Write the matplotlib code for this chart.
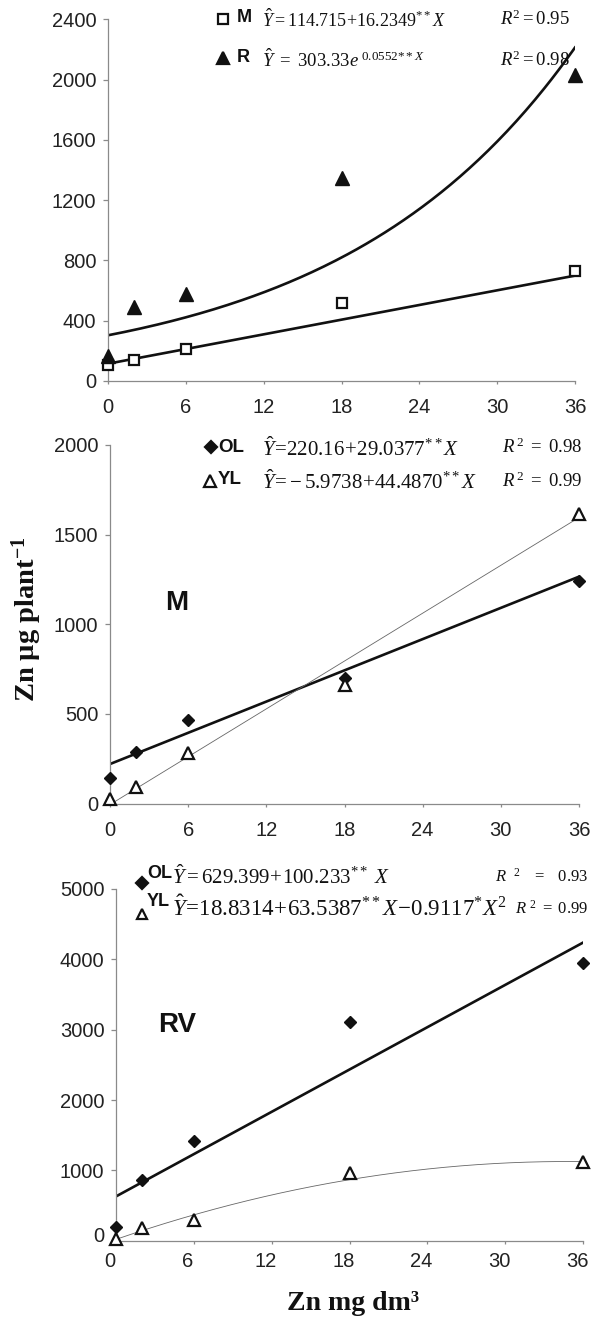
import numpy as np
import matplotlib
matplotlib.use("Agg")
import matplotlib.pyplot as plt
from matplotlib.lines import Line2D
from matplotlib.transforms import ScaledTranslation

plt.rcParams["font.family"] = ["Liberation Sans", "DejaVu Sans"]
plt.rcParams["mathtext.fontset"] = "custom"
plt.rcParams["mathtext.rm"] = "Liberation Serif"
plt.rcParams["mathtext.it"] = "Liberation Serif:italic"
plt.rcParams["mathtext.bf"] = "Liberation Serif:bold"

# Zn dose applied (mg dm-3)
zn_dose = [0, 2, 6, 18, 36]
x_ticks = [0, 6, 12, 18, 24, 30, 36]

# Panel 1: shoot (M) and root (R) Zn content
m_zn = [106, 139, 210, 516, 732]
r_zn = [166, 493, 577, 1345, 2031]
m_fit = (114.715, 16.2349)          # linear
r_fit = (303.33, 0.0552)            # exponential

# Panel 2: M, old leaves (OL) and young leaves (YL)
m_ol = [141, 289, 466, 702, 1241]
m_yl = [23, 94, 283, 661, 1613]
m_ol_fit = (220.16, 29.0377)
m_yl_fit = (-5.9738, 44.4870)

# Panel 3: RV, old leaves (OL) and young leaves (YL)
rv_ol = [199, 864, 1423, 3116, 3947]
rv_yl = [20, 185, 295, 959, 1124]
rv_ol_fit = (629.399, 100.233)
rv_yl_fit = (18.8314, 63.5387, -0.9117)  # quadratic

W, H = 597, 1320
fig = plt.figure(figsize=(W / 100, H / 100), dpi=100)
fig.patch.set_facecolor("white")


def fx(p):
    return p / W


def fy(p):
    return 1 - p / H


def make_axes(left, right, top, bottom, ymax, ystep, xpad):
    ax = fig.add_axes([fx(left), fy(bottom), fx(right - left), (bottom - top) / H])
    ax.set_xlim(0, 36)
    ax.set_ylim(0, ymax)
    ax.set_xticks(x_ticks)
    ax.set_yticks(np.arange(0, ymax + 1, ystep))
    ax.spines[["top", "right"]].set_visible(False)
    for s in ["left", "bottom"]:
        ax.spines[s].set_color("#8a8a8a")
        ax.spines[s].set_linewidth(0.9)
    ax.tick_params(axis="both", direction="out", color="#8a8a8a", width=0.9,
                   labelsize=14.5, labelcolor="#222222")
    ax.tick_params(axis="y", length=3.4, pad=5)
    ax.tick_params(axis="x", length=2.4, pad=xpad)
    return ax


xs = np.linspace(0, 36, 200)
dose = np.array(zn_dose)

# ---------- panel 1 ----------
ax1 = make_axes(108, 575, 19.3, 381, 2400, 400, 9.5)
ax1.plot(xs, m_fit[0] + m_fit[1] * xs, color="#111111", lw=1.9)
ax1.plot(xs, r_fit[0] * np.exp(r_fit[1] * xs), color="#111111", lw=1.9)
ax1.plot(dose, m_zn, "s", ms=7, mfc="white", mec="#111111", mew=1.6, clip_on=False, zorder=5)
ax1.plot(dose, r_zn, "^", ms=9.5, mfc="#111111", mec="#111111", clip_on=False, zorder=5)

# ---------- panel 2 ----------
ax2 = make_axes(110, 579, 445, 803.5, 2000, 500, 10.3)
ax2.plot(xs, m_ol_fit[0] + m_ol_fit[1] * xs, color="#111111", lw=1.9)
ax2.plot(xs, m_yl_fit[0] + m_yl_fit[1] * xs, color="#666666", lw=0.6)
ax2.plot(dose, m_ol, "D", ms=6.5, mfc="#111111", mec="#111111", clip_on=False, zorder=5)
ax2.plot(dose, m_yl, "^", ms=9, mfc="white", mec="#111111", mew=1.6, clip_on=False, zorder=5)

# ---------- panel 3 ----------
ax3 = make_axes(116, 583, 889, 1240.7, 5000, 1000, 6)
ax3.plot(xs, rv_ol_fit[0] + rv_ol_fit[1] * xs, color="#111111", lw=1.9)
ax3.plot(xs, rv_yl_fit[0] + rv_yl_fit[1] * xs + rv_yl_fit[2] * xs ** 2, color="#666666", lw=0.6)
ax3.plot(dose, rv_ol, "D", ms=6.5, mfc="#111111", mec="#111111", clip_on=False, zorder=5)
ax3.plot(dose, rv_yl, "^", ms=9, mfc="white", mec="#111111", mew=1.6, clip_on=False, zorder=5)
shift = ScaledTranslation(-6 / 100, 0, fig.dpi_scale_trans)
for lab in ax3.get_xticklabels():
    lab.set_transform(lab.get_transform() + shift)
up = ScaledTranslation(0, 6 / 100, fig.dpi_scale_trans)
y0lab = ax3.get_yticklabels()[0]
y0lab.set_transform(y0lab.get_transform() + up)


# ---------- legends / equations ----------
def key(x, y, marker, filled, ms):
    fig.add_artist(Line2D([fx(x)], [fy(y)], marker=marker, ms=ms,
                          mfc="#111111" if filled else "white", mec="#111111",
                          mew=1.6, transform=fig.transFigure))


def txt(x, y, s, size, ha="left", bold_sans=False):
    kw = dict(fontsize=size, ha=ha, va="center", color="#111111")
    if bold_sans:
        kw["fontweight"] = "bold"
    fig.text(fx(x), fy(y), s, **kw)


# panel 1
key(223, 19, "s", False, 6.5)
txt(237, 18, "M", 13, bold_sans=True)
txt(262, 20, r"$\hat{Y}=114.715\!+\!16.2349^{**}X$", 13)
txt(570, 19, r"$R^2=0.95$", 13.5, ha="right")
key(223, 58, "^", True, 9)
txt(237, 58, "R", 13, bold_sans=True)
txt(262, 60, r"$\hat{Y}\ =\ 303.33e^{\ 0.0552{**}X}$", 13.5)
txt(570, 60, r"$R^2=0.98$", 13.5, ha="right")

# panel 2
key(211, 447, "D", True, 6)
txt(218, 447, "OL", 13.5, bold_sans=True)
txt(262, 448, r"$\hat{Y}\!=\!220.16\!+\!29.0377^{**}X$", 15)
txt(583, 447, r"$R^{\,2}\ =\ 0.98$", 13.5, ha="right")
key(210, 481, "^", False, 8)
txt(218, 480, "YL", 13.5, bold_sans=True)
txt(262, 481, r"$\hat{Y}\!=\!-5.9738\!+\!44.4870^{**}X$", 15)
txt(583, 481, r"$R^{\,2}\ =\ 0.99$", 13.5, ha="right")

# panel 3
key(142, 883, "D", True, 6)
txt(147, 873, "OL", 13, bold_sans=True)
txt(172, 876, r"$\hat{Y}=629.399\!+\!100.233^{**}\ X$", 15)
txt(588, 876, r"$R\ \ ^2\ \ \ =\ \ \ 0.93$", 12, ha="right")
key(142, 914, "^", False, 7.5)
txt(147, 902, "YL", 13, bold_sans=True)
txt(172, 908, r"$\hat{Y}\!=\!18.8314\!+\!63.5387^{**}X\!-\!0.9117^{*}X^2$", 16.5)
txt(588, 908, r"$R\ ^2\ =\ 0.99$", 12, ha="right")

# panel tags
txt(177, 603, "M", 20, ha="center", bold_sans=True)
txt(177, 1025, "RV", 20, ha="center", bold_sans=True)

# axis titles
fig.text(fx(27), fy(619), r"Zn µg plant$^{\mathbf{-1}}$", rotation=90, ha="center", va="center",
         fontsize=20.5, fontweight="bold", family="Liberation Serif", color="#111111")
fig.text(fx(353), fy(1303), "Zn mg dm³", ha="center", va="center",
         fontsize=20, fontweight="bold", family="Liberation Serif", color="#111111")

fig.savefig("out.png", dpi=100, facecolor="white")
